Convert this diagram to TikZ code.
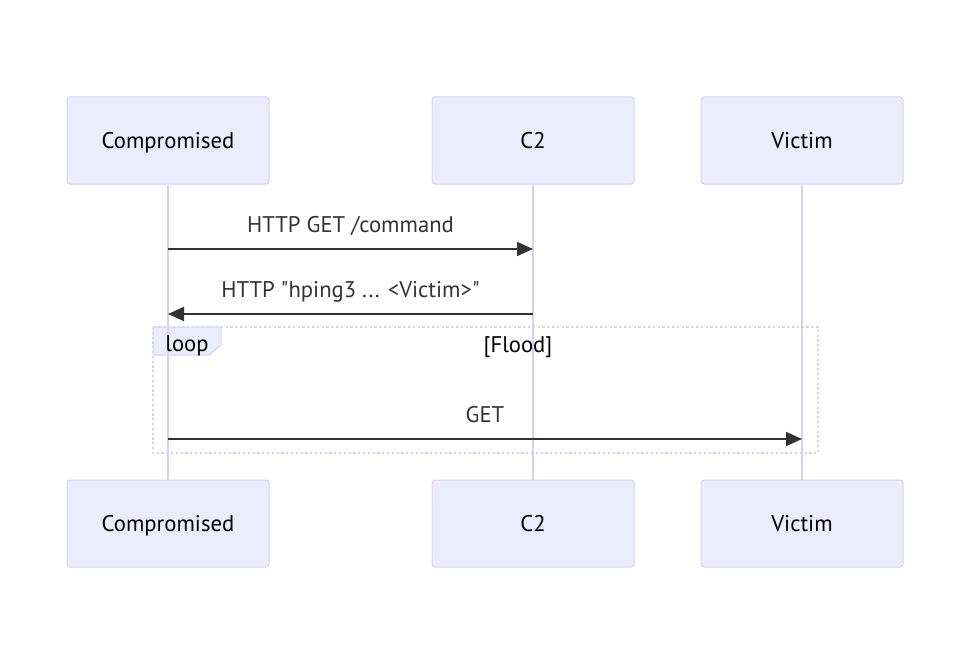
\documentclass[tikz,border=0pt]{standalone}
\usepackage{fontspec}
\setmainfont{PT Sans}
\usetikzlibrary{arrows.meta,positioning,calc}
\definecolor{actbg}{HTML}{ECECFF}
\definecolor{actline}{HTML}{D9CEF3}
\definecolor{msgcol}{HTML}{333333}

\begin{document}
\begin{tikzpicture}[x=0.75pt, y=-0.75pt, font=\fontsize{17}{20}\selectfont,
  every node/.style={text height=11.9pt, text depth=0pt},
  actor/.style={draw=actline, fill=actbg, rounded corners=2.25pt, line width=0.75pt, minimum width=151.5pt, minimum height=65.25pt},
  life/.style={draw=actline, line width=1.4pt},
  msg/.style={-{Triangle[length=12pt, width=10.5pt]}, line width=1.4pt, draw=msgcol},
  msgtext/.style={text=msgcol},
  loopbox/.style={draw=actline, line width=1.6pt, dotted}]
\useasboundingbox (0,0) rectangle (972,667);
% loop frame
\draw[loopbox] (153,327) rectangle (818,453);
\draw[draw=actline, fill=actbg, line width=0.75pt] (153,327) -- (221,327) -- (221,345) -- (209,355) -- (153,355) -- cycle;
\node (loopcond) at (518,345) {[Flood]};
% actors and lifelines
\foreach \n/\t/\x in {comp/Compromised/168, ctwo/C2/533, vic/Victim/802} {
  \node[actor] (\n) at (\x,140.5) {\t};
  \node[actor] (\n-b) at (\x,523.5) {\t};
  \draw[life] (\n) -- (\n-b);
}
\node (looplbl) at (187,344) {loop};
% messages
\coordinate (m1a) at (comp |- 0,249);
\coordinate (m1b) at (ctwo |- 0,249);
\coordinate (m2a) at (ctwo |- 0,314);
\coordinate (m2b) at (comp |- 0,314);
\coordinate (m3a) at (comp |- 0,439);
\coordinate (m3b) at (vic |- 0,439);
\draw[msg] (m1a) -- (m1b);
\draw[msg] (m2a) -- (m2b);
\draw[msg] (m3a) -- (m3b);
\node[msgtext] (t1) at ($(m1a)!0.5!(m1b)+(0,-24)$) {HTTP GET /command};
\node[msgtext] (t2) at ($(m2a)!0.5!(m2b)+(0,-24)$) {HTTP \textquotedbl hping3 ... <Victim>\textquotedbl};
\node[msgtext] (t3) at ($(m3a)!0.5!(m3b)+(0,-24)$) {GET};
\end{tikzpicture}
\end{document}
